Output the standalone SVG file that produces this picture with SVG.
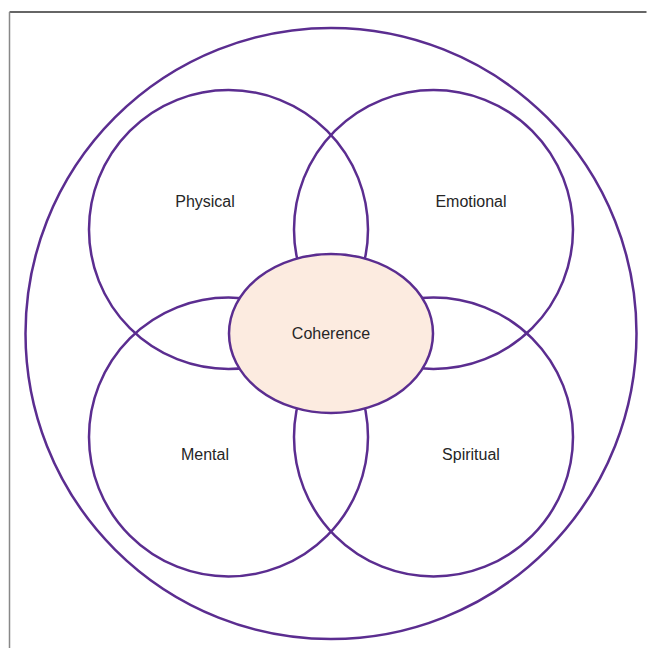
<svg xmlns="http://www.w3.org/2000/svg" width="647" height="648" viewBox="0 0 647 648">
<style>
.c{fill:none;stroke:#5B2D90;stroke-width:2.5}
.t{font-family:"Liberation Sans",Arial,sans-serif;font-size:16px;fill:#262626;text-anchor:middle}
</style>
<rect width="647" height="648" fill="#fff"/>
<g id="frame">
<line x1="9.5" y1="12" x2="646.5" y2="12" stroke="#333" stroke-width="1.5"/>
<line x1="9.5" y1="12" x2="9.5" y2="648" stroke="#888" stroke-width="1.5"/>
</g>
<g id="outer"><circle class="c" cx="331" cy="333.5" r="305.5"/></g>
<g id="physical"><circle class="c" cx="228.5" cy="229.5" r="139.5"/><text class="t" x="205" y="207">Physical</text></g>
<g id="emotional"><circle class="c" cx="433.5" cy="229.5" r="139.5"/><text class="t" x="471" y="207">Emotional</text></g>
<g id="mental"><circle class="c" cx="228.5" cy="437" r="139.5"/><text class="t" x="205" y="460">Mental</text></g>
<g id="spiritual"><circle class="c" cx="433.5" cy="437" r="139.5"/><text class="t" x="471" y="460">Spiritual</text></g>
<g id="coherence"><ellipse cx="331" cy="333.5" rx="102" ry="79.5" fill="#FCEBE0" stroke="#5B2D90" stroke-width="2.5"/><text class="t" x="331" y="339">Coherence</text></g>
<g id="connectors"></g>
</svg>
